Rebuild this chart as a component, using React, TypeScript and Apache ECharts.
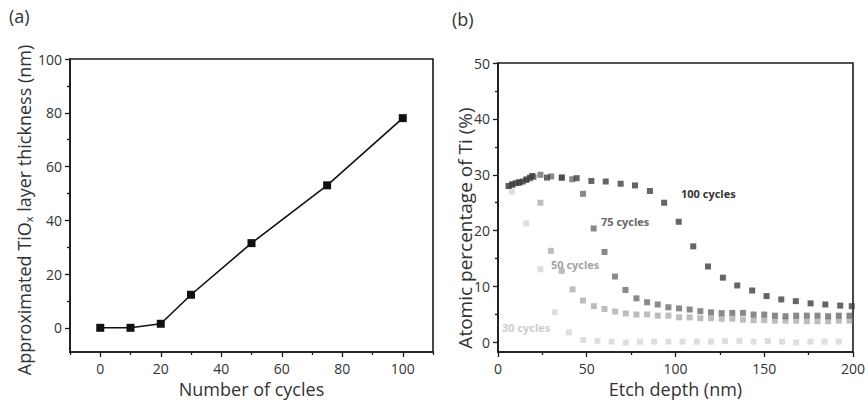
import React, { useEffect, useRef } from "react";
import * as echarts from "echarts";

// Panel (a)
const aCycles = [0, 10, 20, 30, 50, 75, 100];
const aThickness = [0, 0, 1.5, 12.3, 31.5, 53, 78];
const aXLabels = [0, 20, 40, 60, 80, 100];
const aXMinor = [-10, 10, 30, 50, 70, 90, 110];
const aYLabels = [0, 20, 40, 60, 80, 100];
const aYMinor = [10, 30, 50, 70, 90];

// Panel (b)
const depth100 = [6, 8, 10, 12, 14, 16, 18, 19.3, 27.6, 35.9, 44.3, 52.6, 60.7, 69.1, 77.2, 85.6, 93.6, 101.8, 110, 118.3, 126.7, 134.8, 143.2, 151.3, 159.6, 167.8, 176.1, 184.4, 192.8, 199.3];
const ti100 = [28.0, 28.3, 28.5, 28.6, 28.8, 29.1, 29.5, 29.8, 29.5, 29.5, 29.4, 28.9, 28.8, 28.4, 28.1, 27.1, 25.0, 21.6, 17.2, 13.6, 11.6, 10.2, 9.3, 8.3, 7.7, 7.4, 7.0, 6.8, 6.6, 6.5];

const depth75 = [8, 12, 16, 20, 23.9, 30, 36, 41.8, 47.9, 53.9, 60, 65.9, 71.8, 78, 84, 90, 96, 102, 108, 114, 120, 126, 132, 138, 144, 150, 156, 162, 168, 174, 180, 186, 192, 198];
const ti75 = [28.2, 28.7, 29.2, 29.6, 30.0, 29.7, 29.5, 29.2, 26.6, 20.4, 16.2, 11.8, 9.4, 7.9, 7.2, 6.8, 6.3, 6.1, 5.9, 5.6, 5.4, 5.25, 5.3, 5.3, 5.0, 5.0, 4.8, 4.7, 4.8, 4.8, 4.8, 4.7, 4.8, 4.8];

const depth50 = [6, 12, 18, 23.9, 29.8, 35.9, 42, 47.9, 54, 60, 66, 72, 78, 84, 90, 96, 102, 108, 114, 120, 126, 132, 138, 144, 150, 156, 162, 168, 174, 180, 186, 192, 198];
const ti50 = [28.0, 28.6, 29.3, 25.0, 16.4, 12.8, 9.5, 7.5, 6.5, 6.0, 5.55, 5.2, 5.0, 5.0, 4.8, 4.8, 4.5, 4.5, 4.35, 4.35, 4.25, 4.25, 4.1, 4.0, 4.0, 3.9, 3.9, 3.9, 3.8, 3.8, 3.8, 3.9, 3.9];

const depth30 = [7.8, 15.9, 23.9, 32, 40, 48, 56, 64, 72, 80, 88, 96, 104, 112, 120, 128, 136, 144, 152, 160, 168, 176, 184, 192];
const ti30 = [27.0, 21.3, 13.1, 5.4, 1.8, 0.45, 0.25, 0.15, 0.0, 0.15, 0.15, 0.15, 0.15, 0.15, 0.15, 0.25, 0.3, 0.15, 0.25, 0.15, 0.0, 0.15, 0.15, 0.15];

const bXLabels = [0, 50, 100, 150, 200];
const bXMinor = [25, 75, 125, 175];
const bYLabels = [0, 10, 20, 30, 40, 50];
const bYMinor = [5, 15, 25, 35, 45];

const FONT = "'Open Sans', 'Noto Sans', sans-serif";
const AXIS = "#1a1a1a";
const TXT = "#333333";

const zip = (xs: number[], ys: number[]) => xs.map((x, i) => [x, ys[i]]);

export default function App() {
  const ref = useRef<HTMLDivElement>(null);
  useEffect(() => {
    if (!ref.current) return;
    const chart = echarts.init(ref.current, undefined, { renderer: "svg" });
    const majorAxis = (
      kind: "x" | "y",
      grid: number,
      min: number,
      max: number,
      labels: number[],
      name: string,
      nameGap: number,
      nameStyle: any = {}
    ) => ({
      type: "value",
      gridIndex: grid,
      position: kind === "x" ? "bottom" : "left",
      min,
      max,
      name,
      nameLocation: "middle",
      nameGap,
      nameTextStyle: { fontFamily: FONT, fontSize: 18, color: TXT, ...nameStyle },
      axisLine: { show: true, onZero: false, lineStyle: { color: AXIS, width: 1.6 } },
      axisTick: { show: true, customValues: labels, length: 5, lineStyle: { color: AXIS, width: 1.3 } },
      axisLabel: { customValues: labels, fontFamily: FONT, fontSize: 14, color: TXT, margin: kind === "x" ? 9 : 8 },
      splitLine: { show: false },
    });
    const minorAxis = (kind: "x" | "y", grid: number, min: number, max: number, ticks: number[]) => ({
      type: "value",
      gridIndex: grid,
      position: kind === "x" ? "bottom" : "left",
      offset: 0,
      min,
      max,
      axisLine: { show: false, onZero: false },
      axisTick: { show: true, customValues: ticks, length: 3, lineStyle: { color: AXIS, width: 1.3 } },
      axisLabel: { show: false },
      splitLine: { show: false },
    });

    const sq = (name: string, xs: number[], ys: number[], color: string) => ({
      type: "scatter",
      name,
      xAxisIndex: 2,
      yAxisIndex: 2,
      symbol: "rect",
      symbolSize: 6,
      itemStyle: { color },
      data: zip(xs, ys),
      clip: false,
    });

    const option: any = {
      animation: false,
      backgroundColor: "#ffffff",
      textStyle: { fontFamily: FONT },
      grid: [
        { left: 70, top: 59, width: 363, height: 293, show: true, borderColor: AXIS, borderWidth: 1.6, backgroundColor: "transparent" },
        { left: 498, top: 63, width: 360, height: 289, show: true, borderColor: AXIS, borderWidth: 1.6, backgroundColor: "transparent" },
      ],
      xAxis: [
        majorAxis("x", 0, -10, 110, aXLabels, "Number of cycles", 27),
        minorAxis("x", 0, -10, 110, aXMinor),
        majorAxis("x", 1, 0, 200, bXLabels, "Etch depth (nm)", 25),
        minorAxis("x", 1, 0, 200, bXMinor),
      ],
      yAxis: [
        majorAxis("y", 0, -9, 100, aYLabels, "{n|Approximated TiO}{s|x}{n| layer thickness (nm)}", 33, {
          padding: [0, 9, 0, 0],
          rich: {
            n: { fontFamily: FONT, fontSize: 18, color: TXT },
            s: { fontFamily: FONT, fontSize: 11, color: TXT, verticalAlign: "bottom", padding: [9, 0, 0, 0] },
          },
        }),
        minorAxis("y", 0, -9, 100, aYMinor),
        majorAxis("y", 1, -1.7, 50, bYLabels, "", 23),
        minorAxis("y", 1, -1.7, 50, bYMinor),
      ],
      series: [
        {
          type: "line",
          xAxisIndex: 0,
          yAxisIndex: 0,
          data: zip(aCycles, aThickness),
          symbol: "rect",
          symbolSize: 8,
          lineStyle: { color: "#111111", width: 1.6 },
          itemStyle: { color: "#111111" },
        },
        sq("30 cycles", depth30, ti30, "#d6d6d6"),
        sq("50 cycles", depth50, ti50, "#acacac"),
        sq("75 cycles", depth75, ti75, "#6c6c6c"),
        sq("100 cycles", depth100, ti100, "#3e3e3e"),
      ],
      graphic: [
        { type: "text", x: 9, y: 16, style: { text: "(a)", font: `18px ${FONT}`, fill: TXT, verticalAlign: "middle" } },
        { type: "text", x: 452, y: 19, style: { text: "(b)", font: `18px ${FONT}`, fill: TXT, verticalAlign: "middle" } },
        {
          type: "text",
          x: 465,
          y: 228,
          rotation: Math.PI / 2,
          style: { text: "Atomic percentage of Ti (%)", font: `19px ${FONT}`, fill: TXT, align: "center", verticalAlign: "middle" },
        },
        { type: "text", x: 681, y: 193, style: { text: "100 cycles", font: `bold 11px ${FONT}`, fill: "#333333", verticalAlign: "middle" } },
        { type: "text", x: 601, y: 221, style: { text: "75 cycles", font: `bold 11px ${FONT}`, fill: "#676767", verticalAlign: "middle" } },
        { type: "text", x: 551, y: 264, style: { text: "50 cycles", font: `bold 11px ${FONT}`, fill: "#a3a3a3", verticalAlign: "middle" } },
        { type: "text", x: 502, y: 327, style: { text: "30 cycles", font: `bold 11px ${FONT}`, fill: "#cdcdcd", verticalAlign: "middle" } },
      ],
    };
    chart.setOption(option);
    return () => chart.dispose();
  }, []);
  return (
    <div
      ref={ref}
      style={{ position: "fixed", left: 0, top: 0, width: 868, height: 404, background: "#fff" }}
    />
  );
}
